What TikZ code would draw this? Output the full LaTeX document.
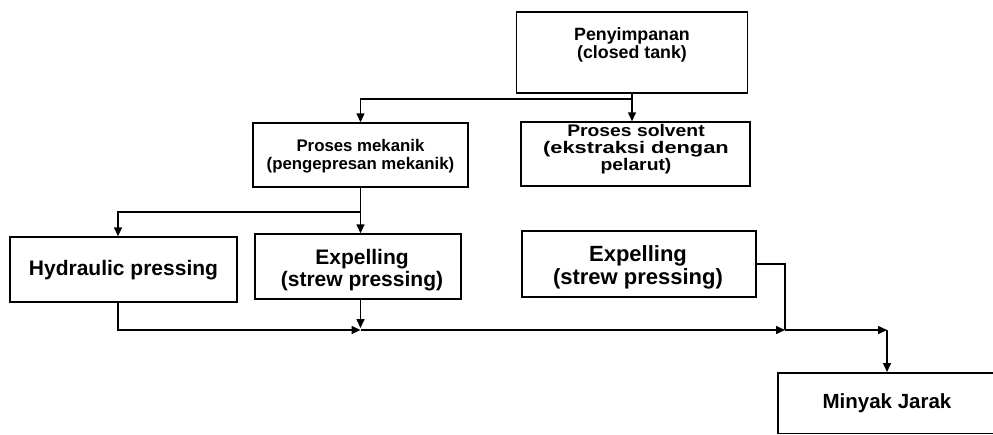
\documentclass[tikz,border=0pt]{standalone}
\usepackage{fontspec}
\setmainfont{Liberation Sans}
\newfontfamily\widesans[FakeStretch=1.15]{Liberation Sans}
\usetikzlibrary{arrows.meta}
\begin{document}
\begin{tikzpicture}[x=1pt,y=-1pt,
  box/.style={draw, line width=1.5pt, inner sep=0pt},
  lbl/.style={align=center, inner sep=0pt},
  flow/.style={line width=1.5pt},
  tip/.style={flow, -{Triangle[length=9pt,width=8pt]}}]
\useasboundingbox (0,0) rectangle (993,434);
\fill[white] (0,0) rectangle (993,434);

% process boxes
\node[box, minimum width=231pt, minimum height=81pt] (store) at (632,52.5) {};
\node[box, minimum width=215pt, minimum height=64pt] (mech) at (360.5,155) {};
\node[box, minimum width=229pt, minimum height=64pt] (solv) at (635.5,154) {};
\node[box, minimum width=227pt, minimum height=65pt] (hyd) at (123.5,269.5) {};
\node[box, minimum width=206pt, minimum height=65pt] (exp1) at (358,266.5) {};
\node[box, minimum width=234pt, minimum height=66pt] (exp2) at (639,264) {};
\node[box, minimum width=218pt, minimum height=60.5pt] (oil) at (887,403) {};

% box texts
\node[lbl, font=\bfseries\fontsize{17.8}{17.5}\selectfont] (store-t) at (632,45)
  {Penyimpanan\\(closed tank)};
\node[lbl, font=\bfseries\fontsize{16.8}{18}\selectfont] (mech-t) at (360.5,156)
  {Proses mekanik\\(pengepresan mekanik)};
\node[lbl, font=\widesans\bfseries\fontsize{16.8}{17}\selectfont] (solv-t) at (636,149.5)
  {Proses solvent\\\scalebox{1.13}[1]{(ekstraksi dengan}\\pelarut)};
\node[lbl, font=\bfseries\fontsize{21}{22}\selectfont] (hyd-t) at (123.5,270)
  {Hydraulic pressing};
\node[lbl, font=\bfseries\fontsize{21}{22}\selectfont] (exp1-t) at (362,270)
  {Expelling\\(strew pressing)};
\node[lbl, font=\bfseries\fontsize{22}{23}\selectfont] (exp2-t) at (638,267)
  {Expelling\\(strew pressing)};
\node[lbl, font=\bfseries\fontsize{20.5}{22}\selectfont] (oil-t) at (887,403)
  {Minyak Jarak};

% junctions
\coordinate (j1) at (632,99);
\coordinate (j2) at (360.5,212);
\coordinate (j3) at (360.5,330);
\coordinate (j4) at (785,330);
\coordinate (j5) at (887,330);

% flow lines
\draw[tip] (store.south) -- (store.south |- solv.north);
\draw[tip] (j1) -| (mech.north);
\draw[tip] (mech.south) -- (mech.south |- exp1.north);
\draw[tip] (j2) -| ([xshift=-5.5pt]hyd.north);
\draw[tip] ([xshift=-5.5pt]hyd.south) |- (j3);
\draw[tip] (mech.south |- exp1.south) -- ([yshift=2pt]j3);
\draw[tip] (j3) -- (j4);
\draw[flow] (exp2.east) -| (j4);
\draw[tip] (j4) -- (j5);
\draw[tip] (j5) -- (oil.north);
\end{tikzpicture}
\end{document}
